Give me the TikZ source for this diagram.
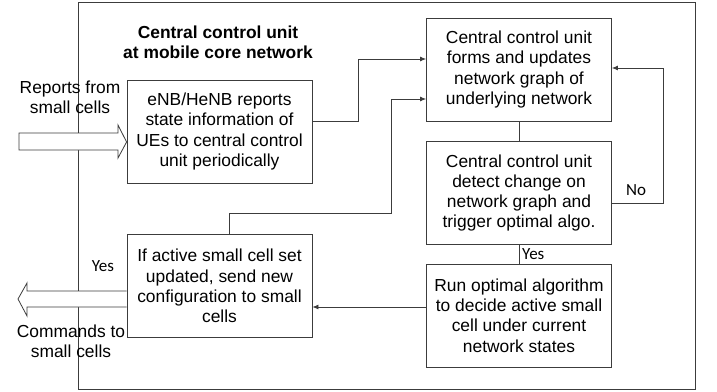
\documentclass[tikz,border=0pt]{standalone}
\usepackage{fontspec}
\setmainfont{Liberation Sans}
\newfontfamily\calib{Carlito}
\usetikzlibrary{arrows.meta,calc}
\definecolor{linegray}{HTML}{3C3C3C}
\begin{document}
\begin{tikzpicture}[x=1pt,y=-1pt,
  box/.style={draw=linegray, line width=0.8pt, minimum width=185pt, minimum height=103pt,
    align=center, inner sep=2pt, font=\fontsize{17.4}{20.3}\selectfont, text=black},
  conn/.style={draw=linegray, line width=0.8pt},
  arr/.style={conn, -{Latex[length=6pt,width=5pt]}},
  fat/.style={draw=linegray, line width=0.8pt, fill=white, line join=miter},
  lbl/.style={align=center, font=\fontsize{17.4}{20.3}\selectfont, text=black, inner sep=0pt},
  small/.style={font=\calib\fontsize{17}{19}\selectfont, text=black, inner sep=0pt}]
\useasboundingbox (0,0) rectangle (717,391);
\draw[draw=linegray, line width=0.8pt] (78,2) rectangle (695,389);
\node[lbl, font=\bfseries\fontsize{17.4}{20.3}\selectfont] (title) at (218,42) {Central control unit\\at mobile core network};
\node[box] (enb) at (219.5,131.5) {eNB/HeNB reports\\state information of\\UEs to central control\\unit periodically};
\node[box] (form) at (519,69.5) {Central control unit\\forms and updates\\network graph of\\underlying network};
\node[box] (detect) at (519,193) {Central control unit\\detect change on\\network graph and\\trigger optimal algo.};
\node[box] (run) at (519,315.5) {Run optimal algorithm\\to decide active small\\cell under current\\network states};
\node[box] (if) at (219.5,286) {If active small cell set\\updated, send new\\configuration to small\\cells};
% input fat arrow
\coordinate (intip) at ($(enb.west)+(0,10.5)$);
\draw[fat] (19,133) -- (118,133) -- (118,125) -- (intip) -- (118,158) -- (118,150) -- (19,150) -- cycle;
% output fat arrow
\coordinate (outtip) at (18,299);
\draw[fat] (if.west |- 0,291) -- (27,291) -- (27,283) -- (outtip) -- (27,316) -- (27,307) -- (if.west |- 0,307);
\node[lbl] (rep) at (70,97.5) {Reports from\\small cells};
\node[lbl] (cmd) at (71,341) {Commands to\\small cells};
\node[small] (yes1) at (103,266) {Yes};
% connectors
\coordinate (c1) at (358,59);
\draw[arr] ($(enb.east)+(0,-10.5)$) -| (c1) -- (form.west |- c1);
\coordinate (c2) at (391,213);
\draw[arr] ($(if.north)+(9.5,0)$) |- (c2) |- ($(form.west)+(0,29.5)$);
\coordinate (c3) at (663,68);
\draw[arr] ($(detect.east)+(0,10)$) -| (c3) -- (form.east |- c3);
\node[small] (no) at (636,190) {No};
\draw[conn] (form.south) -- (detect.north);
\draw[conn] (detect.south) -- (run.north);
\node[small, anchor=west] (yes2) at ($(detect.south)!0.5!(run.north)+(3,0)$) {Yes};
\draw[arr] ($(run.west)+(0,-8.5)$) -- (if.east |- 0,307);
\end{tikzpicture}
\end{document}
